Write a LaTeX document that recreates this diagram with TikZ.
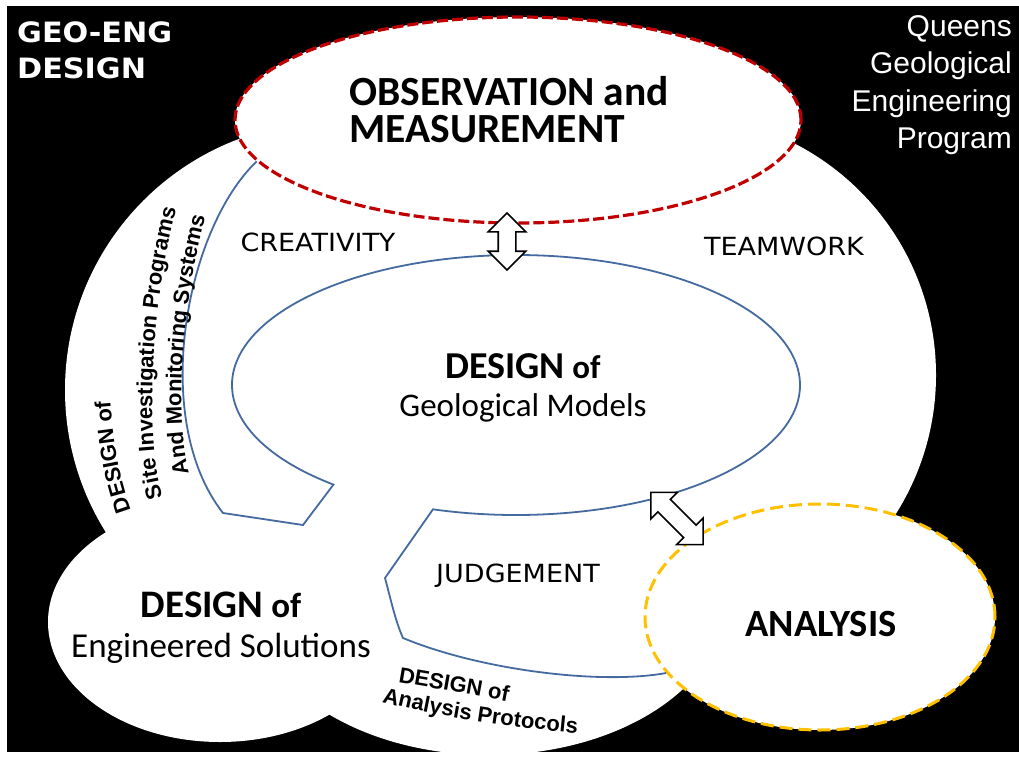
\documentclass[tikz,border=0pt]{standalone}
\usepackage{fontspec}
\setmainfont{Carlito}
\newfontfamily\arialfont{Liberation Sans}
\newfontfamily\handfont[FakeStretch=1.08]{DejaVu Sans}
\usetikzlibrary{calc,shapes.geometric,shapes.arrows,decorations.text}

\definecolor{blueline}{RGB}{68,106,160}
\definecolor{obsred}{RGB}{192,0,0}
\definecolor{anayellow}{RGB}{255,192,0}

\newcommand{\fs}[2]{\fontsize{#1}{#2}\selectfont}
\newcommand{\curvefont}{\arialfont\bfseries\fs{22}{26}}

\tikzset{
	blob/.style={ellipse, fill=white, inner sep=0pt, line width=3.2pt},
	link/.style={draw=blueline, line width=1.8pt},
	hand/.style={font=\handfont\fs{25}{28}},
	twoway/.style={double arrow, draw, fill=white, line width=1.6pt, inner xsep=0pt, inner ysep=8pt,
		double arrow head extend=10pt},
	curved/.style={decorate, decoration={text along path, text align=left, text={|\curvefont|#1}}},
}

\begin{document}
\begin{tikzpicture}[x=1pt, y=-1pt]
	\useasboundingbox (0,0) rectangle (1019,762);
	\fill[white] (0,0) rectangle (1019,762);
	\fill[black] (7,6) rectangle (1019,752);
	% white body: two lobes and two bottom bubbles
	\fill[white] (333,390) circle[radius=268] (676,375) circle[radius=260]
		(489,600) ellipse[x radius=237, y radius=155] (220,622) ellipse[x radius=172, y radius=120];

	\node[blob, draw=obsred, dash pattern=on 11pt off 4pt, minimum width=566pt, minimum height=206pt] (obs) at (518,120) {};
	\node[blob, draw=anayellow, line width=3pt, dash pattern=on 13pt off 6pt, minimum width=350pt, minimum height=226pt] (ana) at (820,617) {};

	\coordinate (gc) at (516,385);
	\draw[link] (obs.189) .. controls (185,230) and (150,420) .. (223,513) -- (303,525)
		-- ($(gc)+(130:284 and 130)$) arc[start angle=130, end angle=467, x radius=284, y radius=130]
		-- (385,578) .. controls (391,600) and (395,620) .. (403,638)
		.. controls (480,670) and (600,685) .. (ana.200);

	\node[anchor=west, align=left, font=\bfseries\fs{41.5}{37}, inner sep=0pt] (obst) at (349,110) {OBSERVATION and\\MEASUREMENT};
	\node[align=center, font=\fs{33}{38}, inner sep=0pt] (geo) at (523,388) {{\bfseries\fs{38}{38}DESIGN} {\bfseries of}\\Geological Models};
	\node[align=center, font=\fs{35}{40}, inner sep=0pt] (eng) at (221,628) {{\bfseries\fs{39}{40}DESIGN} {\bfseries of}\\Engineered Solutions};
	\node[font=\bfseries\fs{38.5}{40}, inner sep=0pt] (anat) at (821,624) {ANALYSIS};

	\node[hand] (cre) at (318,242) {CREATIVITY};
	\node[hand] (team) at (784,246) {TEAMWORK};
	\node[hand] (judge) at (518,576) {JUDGEMENT};
	\node[anchor=north west, align=left, text=white, font=\handfont\bfseries\fs{28}{36}, inner sep=0pt] (geoeng) at (17,22) {GEO-ENG\\DESIGN};
	\node[anchor=north east, align=right, text=white, font=\arialfont\fs{30}{37.5}, inner sep=0pt] (qgep) at (1012,15) {Queens\\Geological\\Engineering\\Program};

	\path[curved={DESIGN of}] (131,510) .. controls (116,470) and (109,420) .. (108,340);
	\path[curved={Site Investigation Programs}] (163,497) .. controls (145,450) and (148,290) .. (185,180);
	\path[curved={And Monitoring Systems}] (189,473) .. controls (175,420) and (179,300) .. (213,190);
	\path[curved={DESIGN of}] (398,682) .. controls (440,689) and (490,698) .. (545,709);
	\path[curved={Analysis Protocols}] (382,702) .. controls (430,715) and (520,730) .. (610,736);

	\node[twoway, rotate=90, minimum height=57pt] (a1) at (507,241.5) {};
	\node[twoway, rotate=-45, minimum height=74pt] (a2) at (677,518.5) {};
\end{tikzpicture}
\end{document}
